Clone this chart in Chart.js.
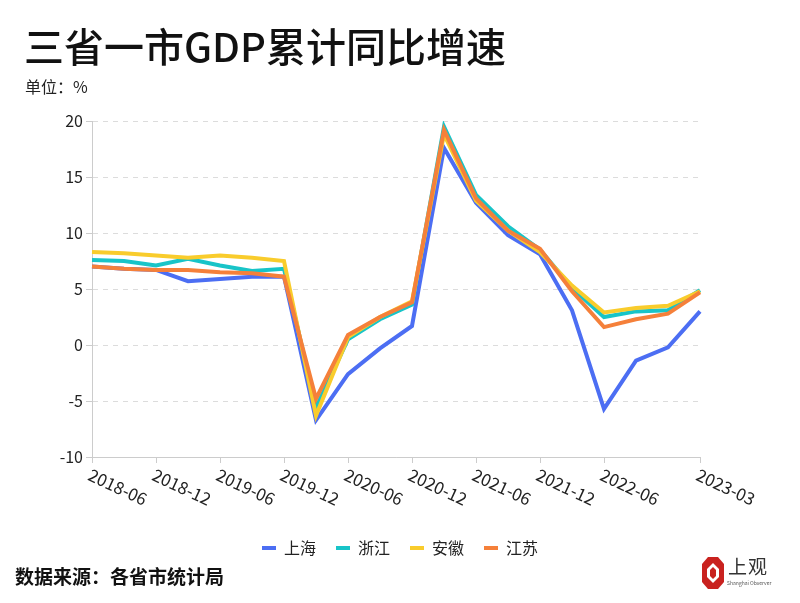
<!DOCTYPE html>
<html>
<head>
<meta charset="utf-8">
<script src="https://cdn.jsdelivr.net/npm/chart.js@4.4.0/dist/chart.umd.min.js"></script>
<style>
  body { margin: 0; background: #fff; font-family: "Noto Sans CJK SC", "Noto Sans", sans-serif; }
  #wrap { position: relative; width: 800px; height: 603px; overflow: hidden; }
  #box { position: absolute; left: 0; top: 0; width: 800px; height: 603px; }
  .title { position: absolute; left: 24px; top: 25px; font-size: 40px; line-height: 1; color: #111; font-weight: 500; }
  .unit { position: absolute; left: 25px; top: 78px; font-size: 16px; line-height: 1; color: #222; }
  .source { position: absolute; left: 15px; top: 566px; font-size: 19px; line-height: 1; color: #111; font-weight: 700; }
  .logo { position: absolute; left: 702px; top: 555px; width: 70px; height: 36px; }
  .logo svg { position: absolute; left: 0; top: 2px; }
  .logo .cn { position: absolute; left: 26px; top: 1px; font-size: 19px; line-height: 1; color: #333; letter-spacing: 1px; }
  .logo .en { position: absolute; left: 25px; top: 25px; font-size: 5px; line-height: 1; color: #555; white-space: nowrap; }
</style>
</head>
<body>
<div id="wrap">
  <div id="box"><canvas id="myChart"></canvas></div>
  <div class="title">三省一市GDP累计同比增速</div>
  <div class="unit">单位：%</div>
  <div class="source">数据来源：各省市统计局</div>
  <div class="logo">
    <svg width="22" height="32" viewBox="0 0 22 32">
      <polygon points="6,0 16,0 22,7 22,25 16,32 6,32 0,25 0,7" fill="#c9221f"/>
      <polygon points="11,6 17,12 17,20 11,26 5,20 5,12" fill="#fff"/>
      <polygon points="11,10 14,13 14,19 11,22 8,19 8,13" fill="#c9221f"/>
    </svg>
    <div class="cn">上观</div>
    <div class="en">Shanghai Observer</div>
  </div>
</div>
<script>
// quarterly cumulative YoY growth, %
var quarters = ["2018-06", "2018-09", "2018-12", "2019-03", "2019-06", "2019-09", "2019-12",
                "2020-03", "2020-06", "2020-09", "2020-12", "2021-03", "2021-06", "2021-09",
                "2021-12", "2022-03", "2022-06", "2022-09", "2022-12", "2023-03"];
var tickLabels = ["2018-06", "2018-12", "2019-06", "2019-12", "2020-06", "2020-12",
                  "2021-06", "2021-12", "2022-06", "2023-03"];
var yTicks = [-10, -5, 0, 5, 10, 15, 20];

var shanghai = [7.0, 6.8, 6.7, 5.7, 5.9, 6.1, 6.1, -6.7, -2.6, -0.3, 1.7, 17.6, 12.7, 9.8, 8.1, 3.1, -5.7, -1.4, -0.2, 3.0];
var zhejiang = [7.6, 7.5, 7.1, 7.7, 7.1, 6.6, 6.8, -5.6, 0.5, 2.3, 3.6, 19.5, 13.4, 10.6, 8.5, 5.1, 2.5, 3.0, 3.1, 4.9];
var anhui    = [8.3, 8.2, 8.0, 7.8, 8.0, 7.8, 7.5, -6.3, 0.7, 2.5, 3.9, 18.8, 12.9, 10.2, 8.3, 5.3, 2.9, 3.3, 3.5, 4.8];
var jiangsu  = [7.0, 6.8, 6.7, 6.7, 6.5, 6.4, 6.1, -4.8, 0.9, 2.5, 3.8, 19.2, 13.1, 10.2, 8.6, 4.8, 1.6, 2.3, 2.8, 4.7];

var seriesNames = ["上海", "浙江", "安徽", "江苏"];
var seriesColors = ["#4c6ef3", "#18c4c8", "#f9cc2c", "#f5803a"];

var FONT = '"Noto Sans CJK SC", "Noto Sans", sans-serif';

// x labels lean down to the right, so they are drawn here
var slantLabels = {
    id: "slantLabels",
    afterDraw: function(chart) {
        var ctx = chart.ctx;
        var xs = chart.scales.x;
        ctx.save();
        ctx.font = "17px " + FONT;
        ctx.fillStyle = "#222";
        ctx.textAlign = "left";
        ctx.textBaseline = "top";
        tickLabels.forEach(function(lab) {
            var x = xs.getPixelForValue(quarters.indexOf(lab));
            ctx.save();
            ctx.translate(x + 1, xs.top + 9);
            ctx.rotate(25 * Math.PI / 180);
            ctx.fillText(lab, 0, 0);
            ctx.restore();
        });
        ctx.restore();
    }
};

var allData = [shanghai, zhejiang, anhui, jiangsu];
var datasets = [];
for (var i = 0; i < allData.length; i++) {
    datasets.push({
        label: seriesNames[i],
        data: allData[i],
        borderColor: seriesColors[i],
        backgroundColor: seriesColors[i],
        borderWidth: 4,
        pointRadius: 0,
        tension: 0,
        fill: false,
        order: allData.length - i   // 江苏 on top
    });
}

var ctx = document.getElementById("myChart");
var chart = new Chart(ctx, {
    type: "line",
    data: { labels: quarters, datasets: datasets },
    plugins: [slantLabels],
    options: {
        responsive: true,
        maintainAspectRatio: false,
        animation: false,
        layout: { padding: { left: 0, right: 0, top: 121, bottom: 37 } },
        plugins: {
            legend: {
                position: "bottom",
                labels: {
                    usePointStyle: true,
                    pointStyle: "line",
                    pointStyleWidth: 14,
                    padding: 20,
                    color: "#222",
                    font: { family: FONT, size: 16 },
                    sort: function(a, b) { return a.datasetIndex - b.datasetIndex; }
                }
            },
            tooltip: { enabled: false }
        },
        scales: {
            x: {
                offset: false,
                ticks: { display: false, autoSkip: false },
                grid: {
                    drawOnChartArea: false,
                    drawTicks: true,
                    tickLength: 6,
                    color: function(c) {
                        return tickLabels.indexOf(quarters[c.index]) >= 0 ? "#cccccc" : "rgba(0,0,0,0)";
                    }
                },
                border: { color: "#cccccc" },
                afterFit: function(scale) { scale.height = 63; }
            },
            y: {
                min: yTicks[0],
                max: yTicks[yTicks.length - 1],
                afterBuildTicks: function(scale) {
                    scale.ticks = yTicks.map(function(v) { return { value: v }; });
                },
                ticks: { color: "#222", padding: 3, font: { family: FONT, size: 16 } },
                grid: {
                    color: "#dcdcdc",
                    tickColor: "#cccccc",
                    tickLength: 6,
                    drawTicks: true
                },
                border: { color: "#cccccc", dash: [5, 5] },
                afterFit: function(scale) { scale.width = 92; }
            },
            // empty right-hand space so the plot ends at the last quarter
            pad: {
                position: "right",
                display: true,
                ticks: { display: false },
                grid: { display: false },
                border: { display: false },
                afterFit: function(scale) { scale.width = 100; }
            }
        }
    }
});
</script>
</body>
</html>
